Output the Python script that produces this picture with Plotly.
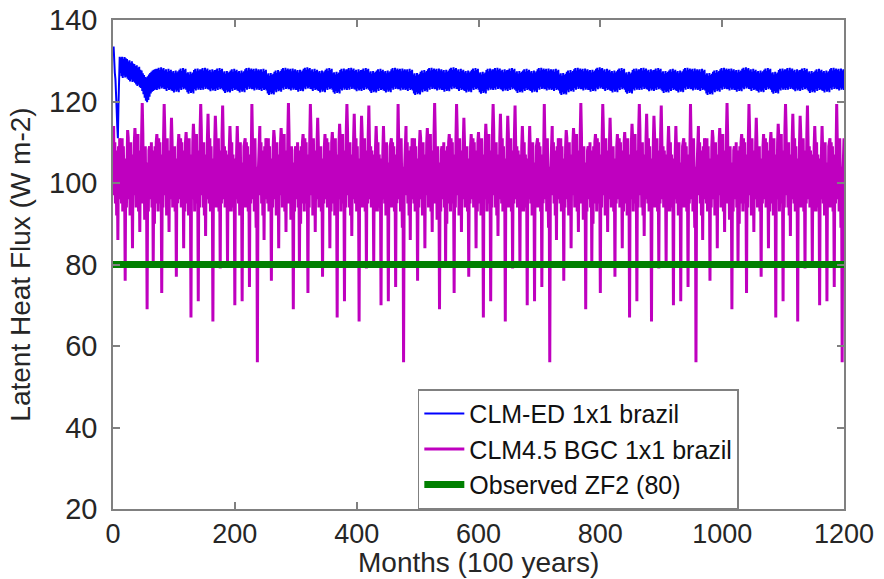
import plotly.graph_objects as go

# ---------------- data ----------------
MONTHS_PER_YEAR = 12
N_YEARS = 100

# CLM4.5 BGC: the forcing is recycled every 20 years -> one 20-year cycle of monthly values
clm45_cycle = [
    [114, 97, 110, 95, 108, 92, 105, 86, 109, 96, 111, 110],
    [108, 95, 111, 93, 109, 97, 102, 76, 106, 94, 109, 113],
    [111, 96, 108, 92, 110, 95, 104, 84, 107, 97, 110, 113.5],
    [110, 94, 109, 96, 112, 93, 103, 88, 108, 95, 112, 119.6],
    [112, 95, 107, 91, 109, 94, 101, 69, 105, 93, 108, 109],
    [107, 96, 110, 94, 108, 80, 103, 90, 109, 95, 110, 112],
    [109, 93, 111, 95, 110, 96, 102, 73, 107, 94, 111, 119.4],
    [113, 97, 109, 92, 111, 95, 104, 88, 108, 96, 110, 116],
    [110, 94, 108, 96, 109, 93, 102, 77, 106, 95, 109, 112],
    [108, 96, 111, 94, 110, 97, 103, 84, 108, 93, 110, 112.5],
    [109, 95, 108, 92, 111, 94, 101, 67, 107, 96, 110, 114.5],
    [111, 93, 110, 95, 112, 96, 102, 71, 108, 94, 113, 119.4],
    [113, 97, 109, 94, 110, 92, 104, 87, 107, 96, 111, 117],
    [110, 95, 111, 93, 109, 96, 101, 66, 106, 94, 110, 116.5],
    [112, 94, 108, 96, 111, 93, 103, 79, 108, 95, 112, 119],
    [110, 96, 109, 94, 108, 97, 102, 80, 107, 93, 109, 114],
    [109, 93, 110, 95, 107, 94, 101, 70, 106, 96, 108, 114],
    [108, 95, 109, 92, 110, 96, 103, 71, 105, 94, 109, 110],
    [111, 94, 110, 96, 109, 93, 102, 74.5, 107, 95, 112, 119.4],
    [110, 96, 108, 93, 111, 95, 89, 104, 56, 100, 106, 111],
]

# CLM-ED: spin-up over the first 6 years
clmed_spinup = [
    [133.5, 128.5, 127, 125.5, 123, 118, 114, 111, 119, 126, 131, 127],
    [130.8, 126.2, 131.0, 125.8, 130.5, 126.4, 130.9, 125.9, 130.6, 126.1, 130.4, 125.6],
    [129.8, 125.3, 130.1, 124.9, 129.5, 125.4, 129.9, 124.8, 129.3, 125.0, 129.2, 124.6],
    [128.7, 124.2, 128.9, 123.8, 128.3, 124.1, 128.5, 123.5, 127.8, 123.3, 127.6, 122.6],
    [126.9, 121.8, 126.5, 120.9, 126.0, 120.2, 125.9, 119.8, 126.2, 120.4, 126.6, 121.2],
    [127.0, 122.0, 127.3, 122.4, 127.6, 122.6, 127.8, 122.8, 127.9, 123.0, 128.0, 122.8],
]
# CLM-ED after spin-up: 20-year forcing cycle
clmed_cycle = [
    [127.6, 123.0, 127.9, 122.6, 127.3, 123.3, 128.0, 122.8, 127.5, 123.1, 127.8, 122.7],
    [126.6, 122.0, 126.9, 121.6, 126.3, 122.3, 127.0, 121.8, 126.5, 122.1, 126.8, 121.7],
    [127.3, 122.7, 127.6, 122.3, 127.0, 123.0, 127.7, 122.5, 127.2, 122.8, 127.5, 122.4],
    [127.9, 123.3, 128.2, 122.9, 127.6, 123.6, 128.3, 123.1, 127.8, 123.4, 128.1, 123.0],
    [127.7, 123.1, 128.0, 122.7, 127.4, 123.4, 128.1, 122.9, 127.6, 123.2, 127.9, 122.8],
    [127.4, 122.8, 127.7, 122.4, 127.1, 123.1, 127.8, 122.6, 127.3, 122.9, 127.6, 122.5],
    [128.0, 123.4, 128.3, 123.0, 127.7, 123.7, 128.4, 123.2, 127.9, 123.5, 128.2, 123.1],
    [127.6, 123.0, 127.9, 122.6, 127.3, 123.3, 128.0, 122.8, 127.5, 123.1, 127.8, 122.7],
    [127.2, 122.6, 127.5, 122.2, 126.9, 122.9, 127.6, 122.4, 127.1, 122.7, 127.4, 122.3],
    [127.8, 123.2, 128.1, 122.8, 127.5, 123.5, 128.2, 123.0, 127.7, 123.3, 128.0, 122.9],
    [126.9, 122.3, 127.2, 121.9, 126.6, 122.6, 127.3, 122.1, 126.8, 122.4, 127.1, 122.0],
    [127.7, 123.1, 128.0, 122.7, 127.4, 123.4, 128.1, 122.9, 127.6, 123.2, 127.9, 122.8],
    [127.9, 123.3, 128.2, 122.9, 127.6, 123.6, 128.3, 123.1, 127.8, 123.4, 128.1, 123.0],
    [127.5, 122.9, 127.8, 122.5, 127.2, 123.2, 127.9, 122.7, 127.4, 123.0, 127.7, 122.6],
    [127.8, 123.2, 128.1, 122.8, 127.5, 123.5, 128.2, 123.0, 127.7, 123.3, 128.0, 122.9],
    [127.1, 122.5, 127.4, 122.1, 126.8, 122.8, 127.5, 122.3, 127.0, 122.6, 127.3, 122.2],
    [127.6, 123.0, 127.9, 122.6, 127.3, 123.3, 128.0, 122.8, 127.5, 123.1, 127.8, 122.7],
    [127.2, 122.6, 127.5, 122.2, 126.9, 122.9, 127.6, 122.4, 127.1, 122.7, 127.4, 122.3],
    [127.9, 123.3, 128.2, 122.9, 127.6, 123.6, 128.3, 123.1, 127.8, 123.4, 128.1, 123.0],
    [127.7, 123.1, 128.0, 122.7, 127.4, 123.4, 128.1, 122.9, 127.6, 123.2, 127.9, 122.8],
]

observed_zf2 = 80
x_ticks = [0, 200, 400, 600, 800, 1000, 1200]
y_ticks = [20, 40, 60, 80, 100, 120, 140]
series_names = ["CLM-ED 1x1 brazil", "CLM4.5 BGC 1x1 brazil", "Observed ZF2 (80)"]
x_title = "Months (100 years)"
y_title = "Latent Heat Flux (W m-2)"

# ---------------- assemble monthly series ----------------
months = list(range(1, N_YEARS * MONTHS_PER_YEAR + 1))
clm45 = []
clmed = []
for yr in range(N_YEARS):
    clm45.extend(clm45_cycle[yr % len(clm45_cycle)])
    if yr < len(clmed_spinup):
        clmed.extend(clmed_spinup[yr])
    else:
        clmed.extend(clmed_cycle[yr % len(clmed_cycle)])

FONT = "Liberation Sans, Arial, Helvetica, sans-serif"
TXT = "#262626"
AX = "#808080"

fig = go.Figure()
fig.add_trace(go.Scatter(x=months, y=clm45, mode="lines", name=series_names[1],
                         line=dict(color="#BF00BF", width=3), legendrank=2))
fig.add_trace(go.Scatter(x=months, y=clmed, mode="lines", name=series_names[0],
                         line=dict(color="#0000FF", width=2), legendrank=1))
fig.add_trace(go.Scatter(x=[0, 1200], y=[observed_zf2, observed_zf2], mode="lines",
                         name=series_names[2], line=dict(color="#008000", width=7),
                         legendrank=3))

axis_common = dict(showgrid=False, zeroline=False, showline=True, linecolor=AX,
                   linewidth=1.5, mirror="ticks", ticks="inside", ticklen=7,
                   tickcolor=AX, tickwidth=1.5, automargin=False)

fig.update_layout(
    width=884, height=579,
    margin=dict(l=113, r=40, t=20, b=70),
    paper_bgcolor="white", plot_bgcolor="white",
    font=dict(family=FONT, size=28, color=TXT),
    xaxis=dict(range=[0, 1200], tickvals=x_ticks, ticklabelstandoff=0,
               tickfont=dict(family=FONT, size=27, color=TXT),
               **axis_common),
    yaxis=dict(range=[20, 140], tickvals=y_ticks, ticklabelstandoff=8,
               tickfont=dict(family=FONT, size=29, color=TXT),
               title=dict(text=y_title, standoff=10,
                          font=dict(family=FONT, size=28, color=TXT)),
               **axis_common),
    legend=dict(x=0.417, y=0.245, xanchor="left", yanchor="top",
                bgcolor="white", bordercolor=AX, borderwidth=1.5,
                font=dict(family=FONT, size=25, color="#111111"),
                tracegroupgap=0, itemwidth=40),
    showlegend=True,
    annotations=[dict(text=x_title, xref="paper", yref="paper", x=0.5, y=-0.1431,
                      xanchor="center", yanchor="bottom", showarrow=False,
                      borderpad=0, font=dict(family=FONT, size=28, color=TXT))],
)

fig.write_html("out.html", config={"displayModeBar": False})
